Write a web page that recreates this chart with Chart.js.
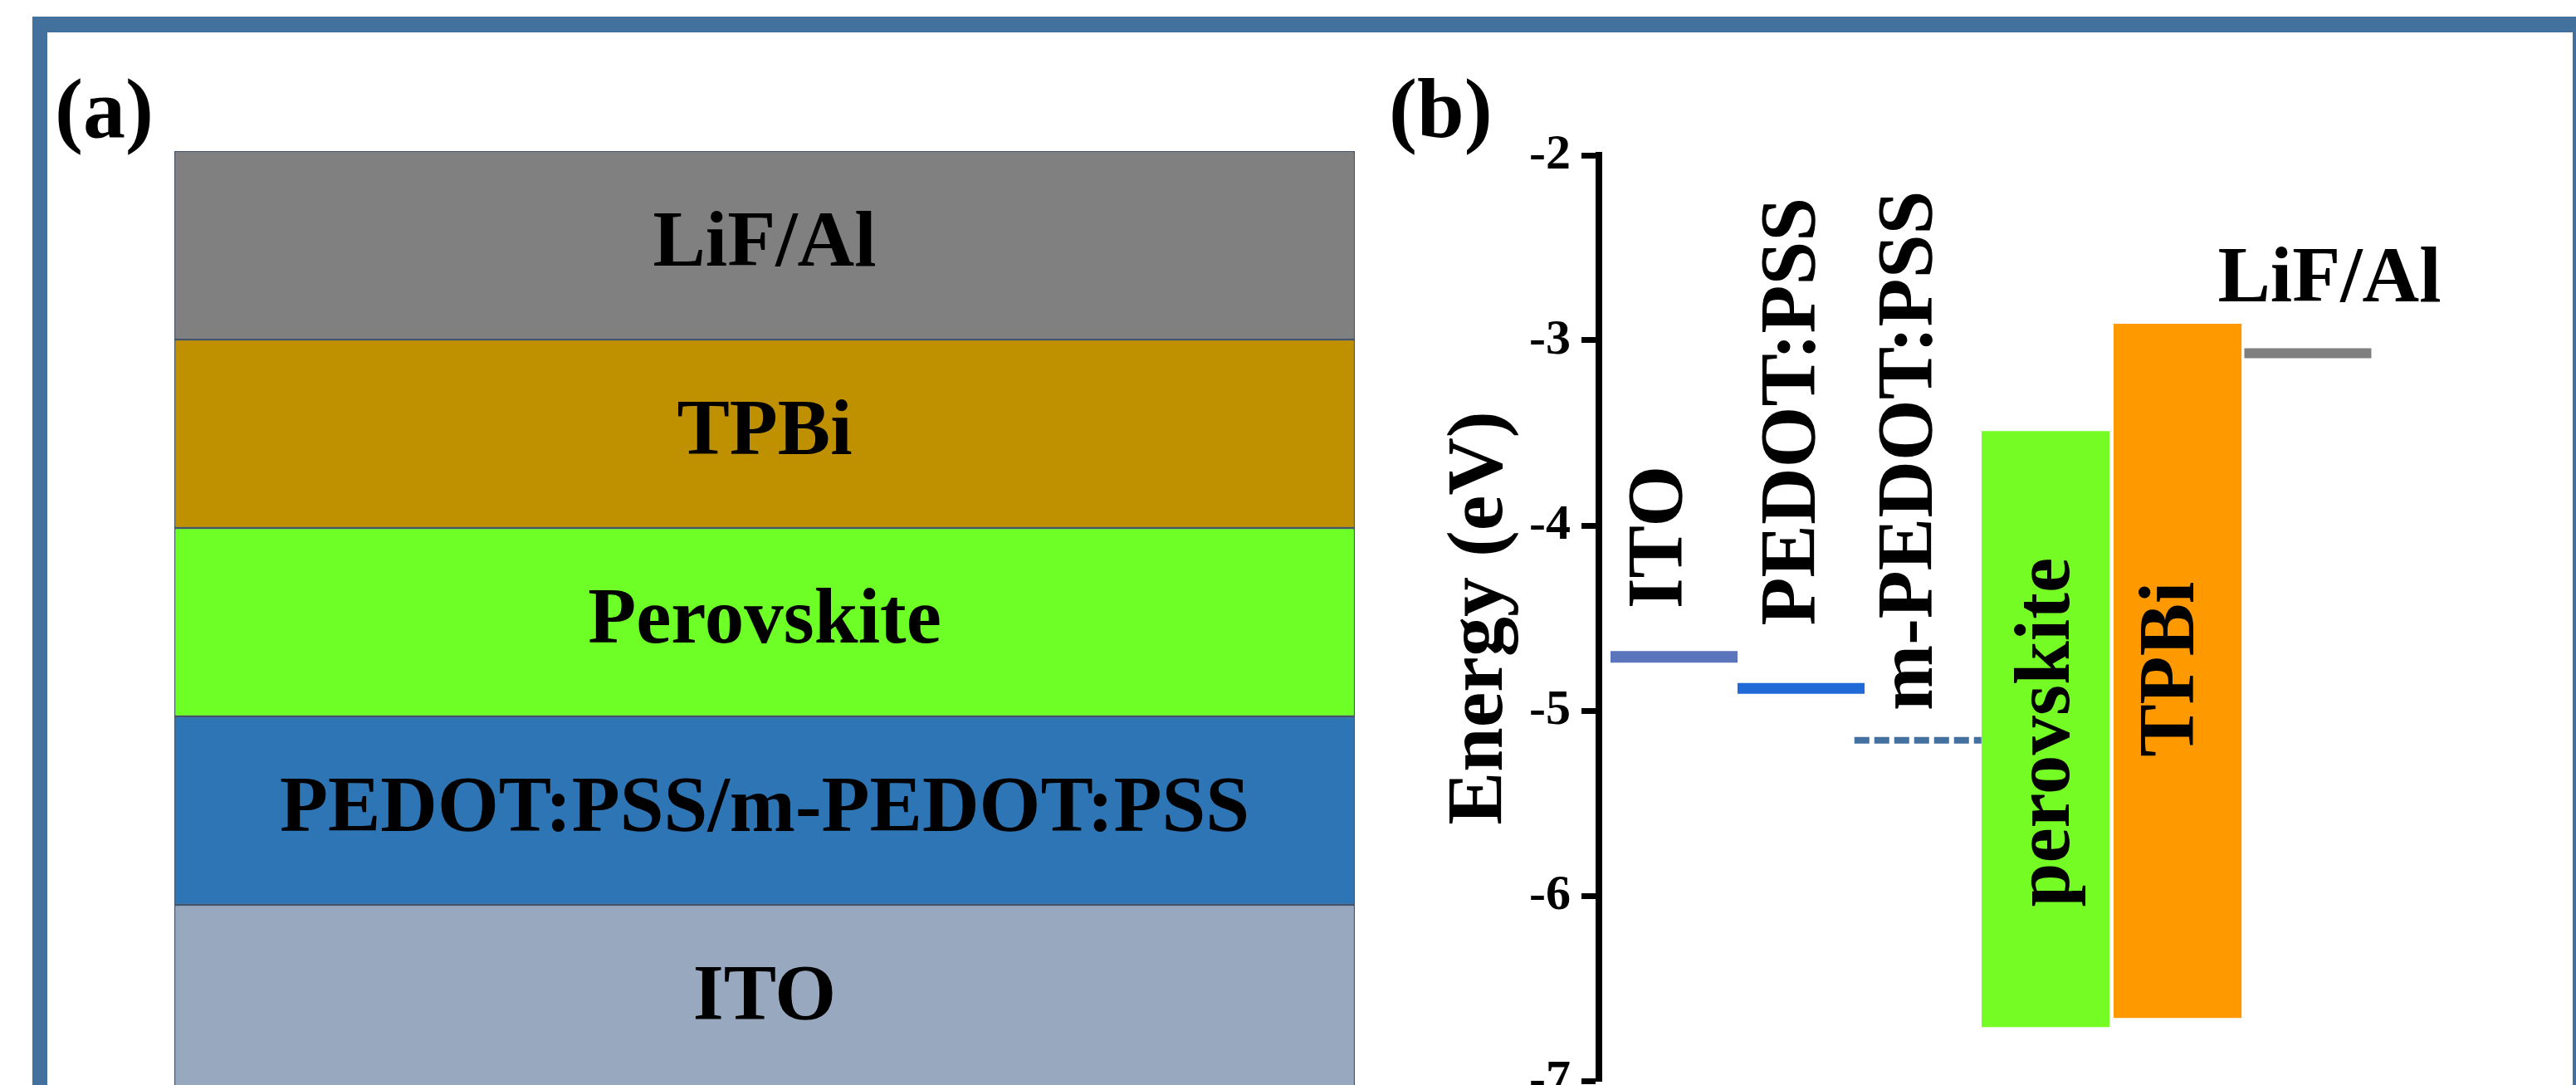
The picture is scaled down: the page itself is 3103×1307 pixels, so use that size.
<!DOCTYPE html>
<html>
<head>
<meta charset="utf-8">
<title>Device structure and energy levels</title>
<script src="https://cdn.jsdelivr.net/npm/chart.js@4.4.1/dist/chart.umd.min.js"></script>
<style>
  html, body { margin: 0; padding: 0; background: #fff; }
  body { width: 3103px; height: 1307px; overflow: hidden; position: relative; }
  #frame {
    position: absolute; left: 39px; top: 20px; width: 3078px; height: 1400px;
    box-sizing: border-box; border: 18px solid #41719c; border-top-width: 19px; border-bottom: none;
  }
  #stack { position: absolute; left: 57px; top: 39px; }
  #levels { position: absolute; left: 1650px; top: 39px; }
</style>
</head>
<body>
<div id="frame"></div>
<canvas id="stack" width="1588" height="1291"></canvas>
<canvas id="levels" width="1449" height="1361"></canvas>
<script>
// (a) device stack, bottom to top
const stackLayers = ['ITO', 'PEDOT:PSS/m-PEDOT:PSS', 'Perovskite', 'TPBi', 'LiF/Al'];
const stackThickness = [1, 1, 1, 1, 1];
const stackColors = ['#98a8be', '#2e75b6', '#6eff26', '#bf9000', '#808080'];

// (b) energy levels (eV), x in column units
const levelNames = ['ITO', 'PEDOT:PSS', 'm-PEDOT:PSS', 'LiF/Al'];
const levelEnergy = [-4.71, -4.88, -5.16, -3.07];
const levelFrom = [0, 1, 1.92, 4.99];
const levelTo = [1, 2, 2.92, 5.99];

const bandNames = ['perovskite', 'TPBi'];
const bandTop = [-3.49, -2.91];
const bandBottom = [-6.71, -6.66];
const bandFrom = [2.92, 3.96];
const bandTo = [3.93, 4.97];

const yTicks = [-2, -3, -4, -5, -6, -7];

// styling
const SERIF = '"Liberation Serif", "Times New Roman", serif';
const levelColors = ['#5b75bd', '#1f6ad6', '#44709f', '#7f7f7f'];
const levelWidths = [14, 13, 8, 12];
const levelDashes = [[], [], [18, 6], []];
const bandColors = ['#75fc24', '#ff9900'];

// where the labels sit (plot units); rotated ones are anchored at their lower end
const labelSpots = {
  'ITO': { x: 0.40, y: -4.45 },
  'PEDOT:PSS': { x: 1.45, y: -4.54 },
  'm-PEDOT:PSS': { x: 2.37, y: -5.00 },
  'perovskite': { x: 3.45, y: -6.06 },
  'TPBi': { x: 4.43, y: -5.25 },
  'LiF/Al': { x: 5.66, y: -2.79, upright: true }
};

Chart.defaults.font.family = SERIF;
Chart.defaults.color = '#000';

const panelTag = {
  id: 'panelTag',
  afterDraw(chart, args, opts) {
    const ctx = chart.ctx;
    ctx.save();
    ctx.font = `bold 102px ${SERIF}`;
    ctx.fillStyle = '#000';
    ctx.textAlign = 'left';
    ctx.textBaseline = 'alphabetic';
    ctx.fillText(opts.text, opts.x, opts.y);
    ctx.restore();
  }
};

const stackLabels = {
  id: 'stackLabels',
  afterDatasetsDraw(chart) {
    const ctx = chart.ctx;
    ctx.save();
    ctx.font = `bold 95px ${SERIF}`;
    ctx.fillStyle = '#000';
    ctx.textAlign = 'center';
    ctx.textBaseline = 'middle';
    chart.data.datasets.forEach((ds, i) => {
      const bar = chart.getDatasetMeta(i).data[0];
      ctx.fillText(ds.label, bar.x, (bar.y + bar.base) / 2);
    });
    ctx.restore();
  }
};

const levelLabels = {
  id: 'levelLabels',
  afterDatasetsDraw(chart) {
    const { ctx, scales: { x, y } } = chart;
    ctx.save();
    ctx.font = `bold 95px ${SERIF}`;
    ctx.fillStyle = '#000';
    Object.entries(labelSpots).forEach(([text, s]) => {
      ctx.save();
      ctx.translate(x.getPixelForValue(s.x), y.getPixelForValue(s.y));
      if (s.upright) {
        ctx.textAlign = 'center';
        ctx.textBaseline = 'alphabetic';
      } else {
        ctx.rotate(-Math.PI / 2);
        ctx.textAlign = 'left';
        ctx.textBaseline = 'middle';
      }
      ctx.fillText(text, 0, 0);
      ctx.restore();
    });
    ctx.restore();
  }
};

function drawStack() {
  new Chart(document.getElementById('stack'), {
    type: 'bar',
    data: {
      labels: ['device'],
      datasets: stackLayers.map((name, i) => ({
        label: name,
        data: [stackThickness[i]],
        backgroundColor: stackColors[i],
        borderColor: '#44546a',
        borderWidth: 1.5,
        borderSkipped: false,
        barPercentage: 1,
        categoryPercentage: 1
      }))
    },
    options: {
      responsive: false,
      animation: false,
      layout: { padding: { left: 153, top: 143, right: 13, bottom: 13 } },
      plugins: {
        legend: { display: false },
        tooltip: { enabled: false },
        panelTag: { text: '(a)', x: 9, y: 126 }
      },
      scales: {
        x: { display: false, stacked: true },
        y: { display: false, stacked: true, min: 0, max: 5 }
      }
    },
    plugins: [stackLabels, panelTag]
  });
}

function drawLevels() {
  const bandSets = bandNames.map((name, i) => ({
    label: name,
    data: [{ x: bandFrom[i], y: bandTop[i] }, { x: bandTo[i], y: bandTop[i] }],
    backgroundColor: bandColors[i],
    borderColor: 'transparent',
    borderWidth: 1,
    pointRadius: 0,
    fill: { value: bandBottom[i] }
  }));
  const levelSets = levelNames.map((name, i) => ({
    label: name,
    data: [{ x: levelFrom[i], y: levelEnergy[i] }, { x: levelTo[i], y: levelEnergy[i] }],
    borderColor: levelColors[i],
    borderWidth: levelWidths[i],
    borderDash: levelDashes[i],
    borderCapStyle: 'butt',
    pointRadius: 0,
    fill: false
  }));

  new Chart(document.getElementById('levels'), {
    type: 'line',
    data: { datasets: levelSets.concat(bandSets) },
    options: {
      responsive: false,
      animation: false,
      layout: { padding: { left: 0, top: 148, right: 88, bottom: 98 } },
      plugins: {
        legend: { display: false },
        tooltip: { enabled: false },
        panelTag: { text: '(b)', x: 23, y: 126 }
      },
      scales: {
        x: { type: 'linear', display: false, min: -0.0915, max: 7 },
        y: {
          min: -7,
          max: -2,
          afterFit(scale) { scale.width = 276; },
          afterBuildTicks(scale) { scale.ticks = yTicks.map(v => ({ value: v })); },
          ticks: { font: { size: 60, weight: 'bold' }, color: '#000', padding: 13 },
          grid: { drawOnChartArea: false, tickLength: 21, tickWidth: 7, tickColor: '#000' },
          border: { display: true, width: 8, color: '#000' },
          title: {
            display: true,
            text: 'Energy (eV)',
            color: '#000',
            font: { size: 96, weight: 'bold' },
            padding: { top: 77, bottom: 0 }
          }
        }
      }
    },
    plugins: [levelLabels, panelTag]
  });
}

drawStack();
drawLevels();
</script>
</body>
</html>
